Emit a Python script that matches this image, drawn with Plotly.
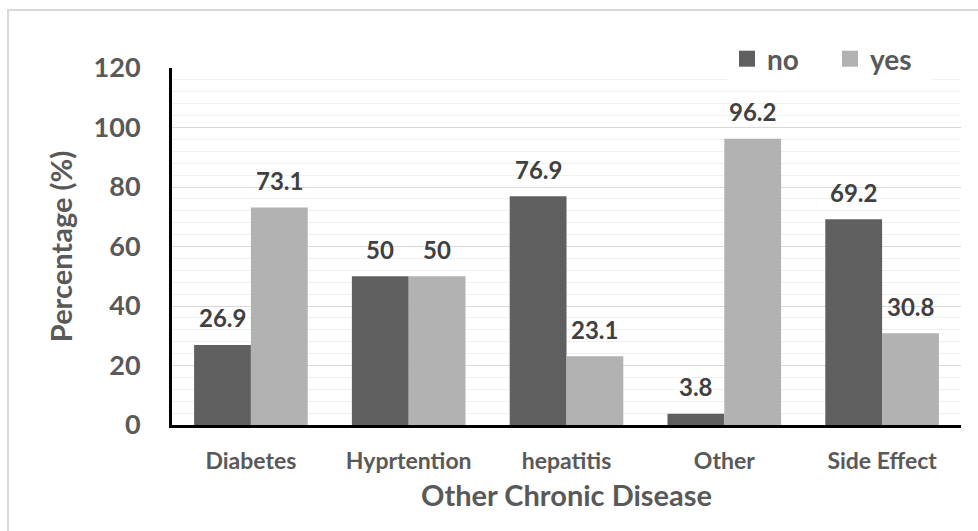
import plotly.graph_objects as go

categories = ["Diabetes", "Hyprtention", "hepatitis", "Other", "Side Effect"]
no_values = [26.9, 50, 76.9, 3.8, 69.2]
yes_values = [73.1, 50, 23.1, 96.2, 30.8]
no_labels = ["26.9", "50", "76.9", "3.8", "69.2"]
yes_labels = ["73.1", "50", "23.1", "96.2", "30.8"]

NO_COLOR = "#5f5f5f"
YES_COLOR = "#b2b2b2"
FONT = "Lato"

L, R, T, B = 172, 17, 68, 106
W, H = 978, 531
pw, ph = W - L - R, H - T - B

def px(xp):
    return (xp - L) / pw

def py(yp):
    return (H - B - yp) / ph

bargap = 0.28
half = (1 - bargap) / 4

fig = go.Figure()
fig.add_trace(go.Bar(x=list(range(len(categories))), y=no_values, name="no",
                     marker=dict(color=NO_COLOR, line=dict(width=0)), showlegend=False))
fig.add_trace(go.Bar(x=list(range(len(categories))), y=yes_values, name="yes",
                     marker=dict(color=YES_COLOR, line=dict(width=0)), showlegend=False))
# legend entries
fig.add_trace(go.Scatter(x=[None], y=[None], mode="markers", name="no",
                         marker=dict(symbol="square", size=17, color=NO_COLOR)))
fig.add_trace(go.Scatter(x=[None], y=[None], mode="markers", name="yes",
                         marker=dict(symbol="square", size=17, color=YES_COLOR)))

annotations = []
for i, (v, t) in enumerate(zip(no_values, no_labels)):
    annotations.append(dict(x=i - half, y=v, xref="x", yref="y", text=t, showarrow=False,
                            yanchor="middle", yshift=27,
                            font=dict(family=FONT, size=24, color="#404040", weight="bold")))
for i, (v, t) in enumerate(zip(yes_values, yes_labels)):
    annotations.append(dict(x=i + half, y=v, xref="x", yref="y", text=t, showarrow=False,
                            yanchor="middle", yshift=27,
                            font=dict(family=FONT, size=24, color="#404040", weight="bold")))

fig.update_layout(
    width=W, height=H,
    margin=dict(l=L, r=R, t=T, b=B),
    paper_bgcolor="white", plot_bgcolor="white",
    barmode="group", bargap=bargap, bargroupgap=0,
    font=dict(family=FONT, color="#595959"),
    annotations=annotations,
    legend=dict(orientation="h", x=px(933), xanchor="right", y=py(59), yanchor="middle",
                bgcolor="white", font=dict(family=FONT, size=28, color="#595959", weight="bold"),
                itemwidth=30, tracegroupgap=0, entrywidth=58, entrywidthmode="pixels"),
    shapes=[dict(type="rect", xref="paper", yref="paper",
                 x0=px(8), x1=px(990), y0=py(545), y1=py(10),
                 line=dict(color="#d9d9d9", width=2), fillcolor="rgba(0,0,0,0)", layer="below")],
)
fig.update_xaxes(
    tickmode="array", tickvals=list(range(len(categories))), ticktext=categories,
    range=[-0.5, len(categories) - 0.5],
    showline=True, linecolor="black", linewidth=3, ticks="", showgrid=False,
    ticklabelstandoff=13,
    tickfont=dict(family=FONT, size=23, color="#595959", weight="bold"),
    title=dict(text="Other Chronic Disease", standoff=14,
               font=dict(family=FONT, size=29, color="#595959", weight="bold")),
)
fig.update_yaxes(
    range=[0, 120], dtick=20, showline=True, linecolor="black", linewidth=3, ticks="",
    showgrid=True, gridcolor="#d9d9d9", gridwidth=1, zeroline=False,
    minor=dict(dtick=4, showgrid=True, gridcolor="#f0f0f0", gridwidth=1),
    tickfont=dict(family=FONT, size=27, color="#595959", weight="bold"),
    ticklabelstandoff=23,
    title=dict(text="Percentage (%)", standoff=13,
               font=dict(family=FONT, size=29, color="#595959", weight="bold")),
)

fig.write_html("out.html", config={"displayModeBar": False},
               post_script="document.body.style.margin='0';document.body.style.padding='0';")
